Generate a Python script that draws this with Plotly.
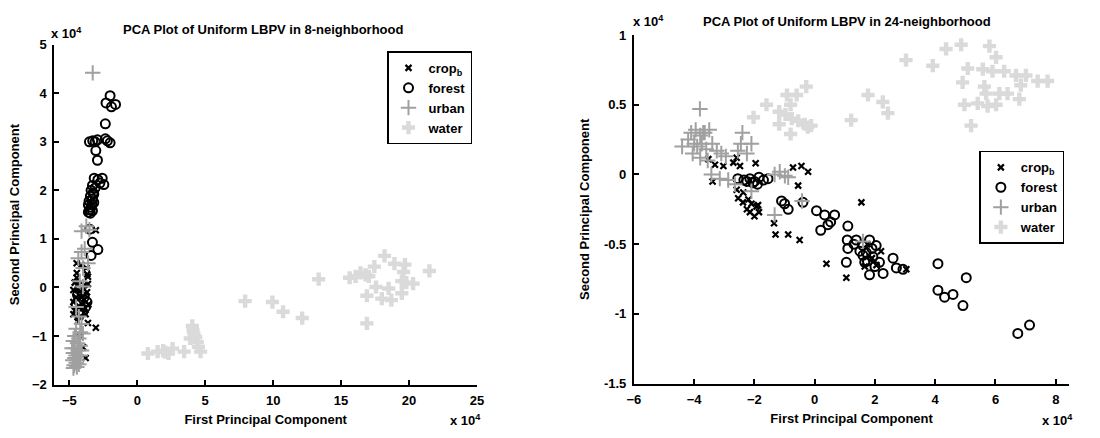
import plotly.graph_objects as go

# ---- 8-neighborhood projection (units of 1e4) ----
crop8_x = [-3.05, -4.46, -4.1, -3.75, -3.63, -4.46, -4.34, -3.68, -3.63, -4.6, -4.7, -4.2, -3.7, -4.5, -3.9,
           -4.7, -4.3, -3.6, -4.0, -4.6, -3.8, -4.2, -4.7, -3.63, -3.05, -4.23, -3.99, -3.8, -4.4, -3.85,
           -4.1, -4.45, -3.9]
crop8_y = [1.18, 0.5, 0.46, 0.4, 0.22, 0.2, 0.07, 0.27, 0.07, 0.1, -0.05, -0.08, -0.1, -0.2, -0.25,
           -0.3, -0.38, -0.35, -0.42, -0.48, -0.55, -0.6, -0.55, -0.73, -0.83, -1.0, -1.23, -1.45, -0.7, -0.15,
           -0.2, 0.3, 0.05]

forest8_x = [-2.0, -2.3, -1.6, -1.9, -2.35, -3.28, -2.93, -3.52, -3.1, -2.35, -2.0, -2.2, -3.05, -2.93,
             -3.17, -2.9, -2.58, -2.46, -2.75, -3.3, -3.1, -3.4, -3.2, -3.45, -3.3, -3.55, -3.35, -3.6,
             -3.4, -3.5, -3.3, -3.45, -3.6, -3.2, -3.25, -3.5, -3.3, -2.9, -3.4,
             -4.2, -4.4, -3.9, -4.2, -3.8, -4.5, -4.0, -4.3, -3.7, -4.1]
forest8_y = [3.95, 3.8, 3.77, 3.72, 3.37, 3.02, 3.04, 3.0, 3.0, 3.06, 2.98, 3.02, 2.82, 2.62,
             2.25, 2.22, 2.25, 2.12, 2.15, 2.1, 2.05, 2.0, 1.92, 1.88, 1.82, 1.78, 1.72, 1.7,
             1.65, 1.6, 1.58, 1.53, 1.55, 1.75, 1.95, 1.2, 0.93, 0.78, 0.66,
             0.0, -0.15, -0.2, -0.3, -0.4, -0.35, -0.5, -0.55, -0.3, -0.1]

urban8_x = [-3.28, -4.1, -3.75, -3.52, -4.1, -3.63, -3.99, -3.87, -4.34, -4.23, -4.0, -4.5, -4.3, -4.1,
            -4.5, -4.2, -4.6, -4.3, -4.7, -4.4, -4.2, -4.6, -4.35, -4.7, -4.5, -4.2, -4.6, -4.4, -4.75,
            -4.5, -4.3, -4.65, -4.45, -4.7, -4.0, -4.1, -4.8]
urban8_y = [4.42, 1.16, 1.26, 1.19, 0.73, 0.5, 0.4, 0.8, 0.6, 0.13, 0.02, -0.4, -0.6, -0.75,
            -0.85, -0.92, -1.0, -1.05, -1.1, -1.15, -1.2, -1.25, -1.3, -1.35, -1.4, -1.4, -1.45, -1.5, -1.5,
            -1.55, -1.58, -1.6, -1.64, -1.66, -0.95, -1.3, -1.25]

water8_x = [0.78, 1.5, 2.04, 2.6, 2.3, 1.9, 3.45, 4.05, 4.17, 4.3, 4.42, 4.66, 3.9, 4.5, 4.1,
            7.94, 9.95, 10.73, 12.14, 13.35, 15.63, 16.07, 16.43, 16.8, 17.04, 17.45, 18.2, 18.93,
            19.7, 19.6, 21.5, 20.3, 19.47, 18.5, 17.57, 16.9, 18.0, 18.7, 19.47, 16.9, 19.8]
water8_y = [-1.36, -1.32, -1.33, -1.26, -1.36, -1.3, -1.32, -0.79, -0.95, -1.02, -1.12, -1.32, -1.05, -1.22, -0.88,
            -0.28, -0.3, -0.5, -0.63, 0.17, 0.2, 0.23, 0.3, 0.26, 0.23, 0.43, 0.65, 0.49,
            0.47, 0.32, 0.34, 0.08, 0.13, -0.02, 0.01, -0.17, -0.23, -0.26, -0.12, -0.74, 0.1]

# ---- 24-neighborhood projection (units of 1e4) ----
crop24_x = [-3.53, -3.31, -3.03, -2.59, -2.7, -2.48, -1.96, -3.39, -0.72, -0.44, -0.22, -0.55, 1.55,
            -2.59, -2.37, -2.54, -2.2, -2.1, -1.93, -2.15, -1.88, -2.38, -1.35, -1.3, -0.88, -0.5,
            0.39, 1.05, 3.04, 1.66, 1.9, 2.2, 1.75, 2.05, -2.25, -1.85, -2.0]
crop24_y = [0.11, 0.07, 0.06, 0.12, 0.085, 0.06, 0.08, -0.05, 0.05, 0.06, 0.02, -0.08, -0.2,
            -0.11, -0.13, -0.17, -0.18, -0.21, -0.23, -0.27, -0.22, -0.2, -0.35, -0.43, -0.43, -0.47,
            -0.64, -0.74, -0.68, -0.66, -0.6, -0.55, -0.5, -0.65, -0.25, -0.27, -0.3]

forest24_x = [-2.55, -2.35, -2.15, -2.0, -1.85, -1.7, -1.55, -2.05, -2.25, -1.9, -1.1, -0.88, -1.0,
              -0.39, 0.06, 0.33, 0.66, 0.53, 0.2, 0.44, 1.1, 1.08, 1.1, 1.38, 1.6, 1.82, 2.04, 1.71,
              1.93, 2.15, 1.82, 2.27, 2.6, 2.71, 2.93, 1.05, 1.66, 1.5, 1.9, 2.0, 1.3, 1.75, 1.6,
              4.09, 5.03, 4.09, 4.31, 4.59, 4.92, 6.74, 7.13]
forest24_y = [-0.03, -0.04, -0.03, -0.05, -0.02, -0.04, -0.03, -0.06, -0.05, -0.07, -0.19, -0.25, -0.21,
              -0.2, -0.26, -0.29, -0.29, -0.34, -0.4, -0.36, -0.37, -0.47, -0.53, -0.47, -0.51, -0.47, -0.51, -0.56,
              -0.59, -0.63, -0.72, -0.71, -0.6, -0.67, -0.68, -0.63, -0.63, -0.55, -0.53, -0.66, -0.5, -0.62, -0.58,
              -0.64, -0.74, -0.83, -0.88, -0.86, -0.94, -1.14, -1.08]

urban24_x = [-3.81, -4.4, -4.2, -4.1, -3.95, -3.8, -3.65, -3.5, -4.05, -3.9, -3.75, -3.6, -3.4, -3.25,
             -3.1, -2.95, -3.8, -3.55, -4.0, -3.7, -2.4, -2.45, -2.1, -2.55, -2.25, -3.43, -3.15, -2.87,
             -2.65, -2.1, -1.33, -0.99, -0.88, -1.16, -1.33, 1.6, -0.42]
urban24_y = [0.47, 0.2, 0.25, 0.3, 0.32, 0.28, 0.3, 0.32, 0.15, 0.2, 0.22, 0.18, 0.22, 0.17,
             0.15, 0.13, 0.12, 0.1, 0.22, 0.3, 0.3, 0.22, 0.22, 0.17, 0.15, 0.0, -0.03, -0.04,
             -0.07, -0.12, 0.0, -0.01, -0.02, 0.02, -0.29, -0.48, -0.19]

water24_x = [3.03, 3.92, 4.36, 4.86, 5.8, 6.02, 5.08, 5.58, 5.9, 6.29, 6.68, 7.01, 7.4, 7.73, 4.91,
             5.63, 5.69, 6.13, 6.84, 4.97, 5.41, 5.74, 6.02, 6.4, 6.79, 5.19, 1.77, 2.26, 2.43, 1.21,
             -2.03, -1.6, -1.18, -0.92, -0.6, -0.28, -0.8, -0.97, -0.76, -0.55, -0.33, -0.23, -0.8,
             -0.12, -1.18]
water24_y = [0.82, 0.78, 0.9, 0.93, 0.92, 0.84, 0.76, 0.755, 0.74, 0.74, 0.71, 0.71, 0.67, 0.67, 0.66,
             0.63, 0.58, 0.58, 0.64, 0.5, 0.51, 0.49, 0.5, 0.58, 0.54, 0.35, 0.57, 0.52, 0.44, 0.39,
             0.41, 0.5, 0.45, 0.57, 0.57, 0.63, 0.5, 0.43, 0.4, 0.385, 0.36, 0.34, 0.29,
             0.35, 0.36]

FONT = "Liberation Sans Narrow, Arial Narrow, Liberation Sans, Arial"
W, H = 1100, 438

styles = {
    "crop": dict(name="crop<sub>b</sub>", marker=dict(symbol="x-thin", size=6, color="black",
                                                    line=dict(width=2.2, color="black"))),
    "forest": dict(name="forest", marker=dict(symbol="circle-open", size=9, color="black",
                                               line=dict(width=2, color="black"))),
    "urban": dict(name="urban", marker=dict(symbol="cross-thin", size=11, color="#a0a0a0",
                                             line=dict(width=2, color="#a0a0a0"))),
    "water": dict(name="water", marker=dict(symbol="cross", size=11, color="#dadada",
                                             line=dict(width=0))),
}

fig = go.Figure()

series8 = [("crop", crop8_x, crop8_y), ("forest", forest8_x, forest8_y),
           ("urban", urban8_x, urban8_y), ("water", water8_x, water8_y)]
series24 = [("crop", crop24_x, crop24_y), ("forest", forest24_x, forest24_y),
            ("urban", urban24_x, urban24_y), ("water", water24_x, water24_y)]

for key, xs, ys in series8:
    fig.add_trace(go.Scatter(x=xs, y=ys, mode="markers", xaxis="x", yaxis="y",
                             legend="legend", **styles[key]))
for key, xs, ys in series24:
    fig.add_trace(go.Scatter(x=xs, y=ys, mode="markers", xaxis="x2", yaxis="y2",
                             legend="legend2", **styles[key]))

axis_common = dict(showline=True, linecolor="black", linewidth=2, ticks="inside", ticklen=5,
                   tickwidth=2, tickcolor="black", showgrid=False, zeroline=False,
                   ticklabelstandoff=3,
                   tickfont=dict(family=FONT, size=13, color="black", weight="bold"),
                   title_font=dict(family=FONT, size=13, color="black", weight="bold"))

# axes placement in pixels
L_X0, L_X1 = 48, 476
R_X0, R_X1 = 635, 1076
L_Y0, L_Y1 = 39, 391
R_Y0, R_Y1 = 29, 390

fig.update_layout(
    width=W, height=H, margin=dict(l=0, r=0, t=0, b=0),
    paper_bgcolor="white", plot_bgcolor="white",
    font=dict(family=FONT, color="black"),
    xaxis=dict(domain=[L_X0 / W, L_X1 / W], range=[-6.1, 25], tickvals=[-5, 0, 5, 10, 15, 20, 25],
               title=dict(text="First Principal Component", standoff=8), anchor="y", **axis_common),
    yaxis=dict(domain=[1 - L_Y1 / H, 1 - L_Y0 / H], range=[-2, 5], tickvals=[-2, -1, 0, 1, 2, 3, 4, 5],
               title=dict(text="Second Principal Component", standoff=9), anchor="x", **axis_common),
    xaxis2=dict(domain=[R_X0 / W, R_X1 / W], range=[-6, 8.45], tickvals=[-6, -4, -2, 0, 2, 4, 6, 8],
                title=dict(text="First Principal Component", standoff=8), anchor="y2", **axis_common),
    yaxis2=dict(domain=[1 - R_Y1 / H, 1 - R_Y0 / H], range=[-1.5, 1], tickvals=[-1.5, -1, -0.5, 0, 0.5, 1],
                ticktext=["-1.5", "-1", "-0.5", "0", "0.5", "1"],
                title=dict(text="Second Principal Component", standoff=11), anchor="x2", **axis_common),
    legend=dict(x=(L_X1 - 5) / W, y=1 - 46 / H, xanchor="right", yanchor="top", bgcolor="white",
                bordercolor="black", borderwidth=1.5, itemsizing="trace",
                font=dict(family=FONT, size=13, color="black", weight="bold")),
    legend2=dict(x=(R_X1 - 5) / W, y=1 - 149 / H, xanchor="right", yanchor="top", bgcolor="white",
                 bordercolor="black", borderwidth=1.5, itemsizing="trace",
                 font=dict(family=FONT, size=13, color="black", weight="bold")),
)

title_font = dict(family=FONT, size=13, color="black", weight="bold")
annotations = [
    dict(text="PCA Plot of Uniform LBPV in 8-neighborhood", x=259 / W, y=1 - 23 / H),
    dict(text="PCA Plot of Uniform LBPV in 24-neighborhood", x=851 / W, y=1 - 15 / H),
    dict(text="x 10<sup>4</sup>", x=60 / W, y=1 - 27 / H),
    dict(text="x 10<sup>4</sup>", x=650 / W, y=1 - 15 / H),
    dict(text="x 10<sup>4</sup>", x=464 / W, y=1 - 428 / H),
    dict(text="x 10<sup>4</sup>", x=1064 / W, y=1 - 428 / H),
]
for a in annotations:
    fig.add_annotation(xref="paper", yref="paper", showarrow=False, xanchor="center",
                       yanchor="middle", font=title_font, **a)

fig.write_html("out.html")
